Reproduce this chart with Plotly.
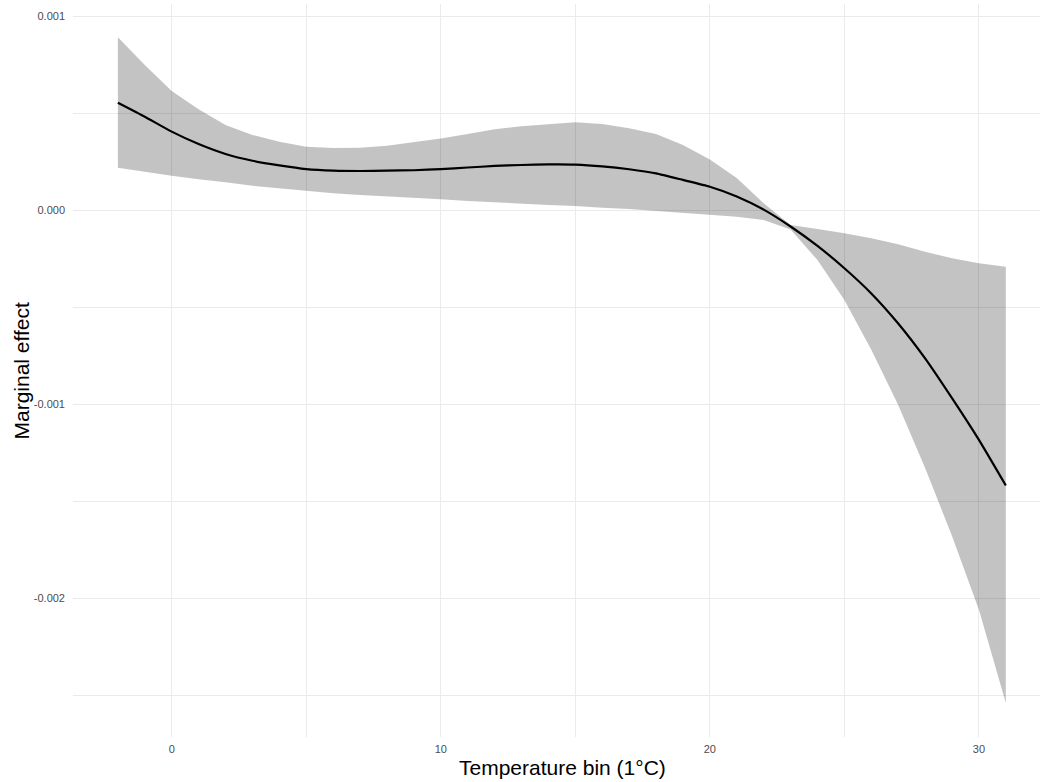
import plotly.graph_objects as go

# Temperature bins (°C)
temp_bins = [-2, -1, 0, 1, 2, 3, 4, 5, 6, 7, 8, 9, 10, 11, 12, 13, 14, 15, 16,
             17, 18, 19, 20, 21, 22, 23, 24, 25, 26, 27, 28, 29, 30, 31]
# Marginal effect estimate and confidence band (in units of 1e-3)
effect_e3 = [0.553, 0.481, 0.404, 0.340, 0.289, 0.254, 0.230, 0.211, 0.203, 0.201,
             0.203, 0.205, 0.211, 0.219, 0.227, 0.232, 0.235, 0.234, 0.225, 0.210,
             0.189, 0.155, 0.120, 0.070, 0.002, -0.085, -0.185, -0.300, -0.430, -0.585,
             -0.765, -0.970, -1.185, -1.420]
upper_e3 = [0.890, 0.747, 0.613, 0.519, 0.438, 0.387, 0.352, 0.326, 0.320, 0.321,
            0.331, 0.348, 0.368, 0.392, 0.416, 0.432, 0.443, 0.452, 0.443, 0.421,
            0.392, 0.335, 0.260, 0.165, 0.035, -0.077, -0.098, -0.120, -0.146, -0.177,
            -0.215, -0.249, -0.275, -0.292]
lower_e3 = [0.218, 0.197, 0.177, 0.158, 0.143, 0.125, 0.112, 0.098, 0.086, 0.077,
            0.068, 0.062, 0.055, 0.046, 0.038, 0.032, 0.026, 0.021, 0.012, 0.005,
            -0.003, -0.014, -0.025, -0.035, -0.052, -0.100, -0.258, -0.464, -0.72, -1.005,
            -1.33, -1.68, -2.06, -2.541]

effect = [v * 1e-3 for v in effect_e3]
upper = [v * 1e-3 for v in upper_e3]
lower = [v * 1e-3 for v in lower_e3]

x_ticks = [0, 10, 20, 30]
x_ticklabels = ["0", "10", "20", "30"]
y_ticks = [0.001, 0.0, -0.001, -0.002]
y_ticklabels = ["0.001", "0.000", "-0.001", "-0.002"]
x_title = "Temperature bin (1°C)"
y_title = "Marginal effect"

fig = go.Figure()
fig.add_trace(go.Scatter(
    x=temp_bins + temp_bins[::-1],
    y=upper + lower[::-1],
    fill="toself",
    fillcolor="rgba(0,0,0,0.235)",
    line=dict(width=0, color="rgba(0,0,0,0)"),
    mode="lines",
    hoverinfo="skip",
    showlegend=False,
))
fig.add_trace(go.Scatter(
    x=temp_bins, y=effect, mode="lines",
    line=dict(color="black", width=2.2, shape="spline", smoothing=0.5),
    showlegend=False,
))

grid = "#EBEBEB"
fig.update_layout(
    template="none",
    width=1040, height=782,
    margin=dict(l=73, r=0, t=4, b=45),
    paper_bgcolor="white", plot_bgcolor="white",
    font=dict(family="Liberation Sans, Arial, sans-serif", color="#4D4D4D"),
    xaxis=dict(
        range=[-3.668, 32.27],
        tickvals=x_ticks, ticktext=x_ticklabels,
        tickfont=dict(size=11, color="#4D4D4D"),
        showgrid=True, gridcolor=grid, gridwidth=1.1,
        minor=dict(dtick=5, tick0=0, showgrid=True, gridcolor=grid, gridwidth=0.6),
        zeroline=False, showline=False, ticks="",
        ticklabelstandoff=4,
        automargin=False,
    ),
    yaxis=dict(
        range=[-2.7165e-3, 1.0619e-3],
        tickvals=y_ticks, ticktext=y_ticklabels,
        tickfont=dict(size=11, color="#4D4D4D"),
        showgrid=True, gridcolor=grid, gridwidth=1.1,
        minor=dict(dtick=0.0005, tick0=0, showgrid=True, gridcolor=grid, gridwidth=0.6),
        zeroline=False, showline=False, ticks="",
        ticklabelstandoff=7,
        automargin=False,
    ),
    annotations=[
        dict(text=x_title, xref="paper", yref="paper",
             x=(562 - 73) / 967, y=-(767 - 737) / 733,
             xanchor="center", yanchor="middle", showarrow=False,
             font=dict(size=21, color="black")),
        dict(text=y_title, xref="paper", yref="paper",
             x=(21 - 73) / 967, y=0.5, textangle=-90,
             xanchor="center", yanchor="middle", showarrow=False,
             font=dict(size=21, color="black")),
    ],
)

fig.write_html(
    "out.html",
    config={"displayModeBar": False},
    post_script="document.body.style.margin='0';document.body.style.overflow='hidden';",
)
